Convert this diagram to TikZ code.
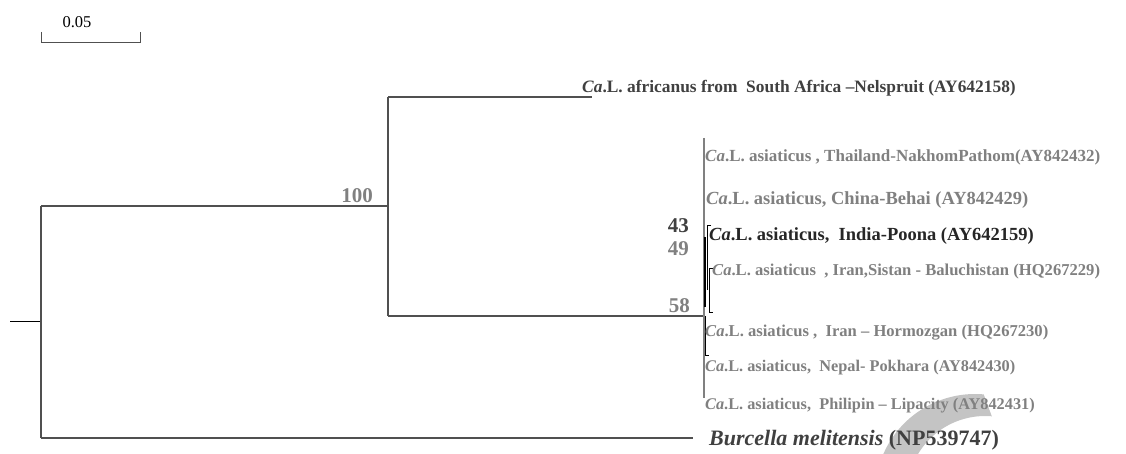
\documentclass[tikz,border=0pt]{standalone}
\usepackage{fontspec}
\usetikzlibrary{calc}
\setmainfont{Liberation Serif}
\definecolor{lgray}{HTML}{808080}
\definecolor{dgray}{HTML}{404040}
\definecolor{vdark}{HTML}{262626}
\definecolor{wmark}{HTML}{C4C4C4}
\definecolor{tline}{HTML}{505050}
\tikzset{
  leaf/.style={anchor=west, inner sep=0pt, font=\fontsize{#1}{20}\selectfont\bfseries, text=lgray},
  leaf/.default=16.5,
  boot/.style={anchor=east, inner sep=0pt, font=\fontsize{21}{22}\selectfont\bfseries, text=lgray},
  branch/.style={draw=tline, line width=1.1pt},
  thin/.style={draw=black, line width=0.8pt},
}
\newcommand{\Ca}{\textit{Ca}.L.}
\begin{document}
\begin{tikzpicture}[x=1pt,y=1pt]
\useasboundingbox (0,0) rectangle (1126,454);
% watermark
\begin{scope}
\clip (0,0) rectangle (1126,454);
\fill[wmark] (975,-40) ++(85:100) arc[start angle=85,end angle=200,radius=100]
  -- ($(985,-40)+(200:78)$) arc[start angle=200,end angle=85,radius=78] -- cycle;
\end{scope}
% coordinates (y = 454 - image y)
\coordinate (r0) at (10,132);
\coordinate (r) at (41,132);
\coordinate (rt) at (41,248);
\coordinate (rb) at (41,16);
\coordinate (n1) at (388,248);
\coordinate (n1t) at (388,357);
\coordinate (n1b) at (388,138);
\coordinate (afr) at (592,357);
\coordinate (n2) at (704,138);
\coordinate (n2t) at (704,316);
\coordinate (n2b) at (704,56);
\coordinate (bur) at (693,16);
% scale bar
\coordinate (s1) at (41,422);
\coordinate (s2) at (41,411);
\coordinate (s3) at (140,411);
\coordinate (s4) at (140,422);
\draw[tline, line width=1pt] (s1) -- (s2) -- (s3) -- (s4);
\node[inner sep=0pt, font=\fontsize{16.5}{18}\selectfont] (sl) at (77,432) {0.05};
% tree
\draw[black, line width=1pt] (r0) -- (r);
\draw[branch] (rt) -- (rb);
\draw[branch] (rt) -- (n1);
\draw[branch] (rb) -- (bur);
\draw[branch] (n1t) -- (n1b);
\draw[branch] (n1t) -- (afr);
\draw[branch] (n1b) -- (n2);
\draw[draw=lgray, line width=1.2pt] (n2t) -- (n2b);
% inner brackets
\coordinate (a1) at (705,217);
\coordinate (a2) at (705,147);
\draw[black, line width=2.4pt] (a1) -- (a2);
\coordinate (b0) at (711,229);
\coordinate (b1) at (707,229);
\coordinate (b2) at (707,164);
\draw[thin] (b0) -- (b1) -- (b2);
\coordinate (c0) at (713,186);
\coordinate (c1) at (709,186);
\coordinate (c2) at (709,142);
\coordinate (c3) at (713,142);
\draw[thin] (c0) -- (c1) -- (c2) -- (c3);
\coordinate (d1) at (705,138);
\coordinate (d2) at (705,99);
\coordinate (d3) at (709,99);
\draw[thin] (d1) -- (d2) -- (d3);
% bootstrap values
\node[boot] (b100) at (373,258) {100};
\node[boot, text=dgray] (b43) at (689,228) {43};
\node[boot] (b49) at (689,205) {49};
\node[boot] (b58) at (690,148) {58};
% leaves
\node[leaf=17.4, text=dgray] (l1) at (582,366) {\Ca{} africanus from\ \ South Africa –Nelspruit (AY642158)};
\node[leaf=17] (l2) at (705,297) {\Ca{} asiaticus , Thailand-NakhomPathom(AY842432)};
\node[leaf=18.5] (l3) at (706,254) {\Ca{} asiaticus, China-Behai (AY842429)};
\node[leaf=18.5, text=vdark] (l4) at (709,218) {\Ca{} asiaticus,\ \ India-Poona (AY642159)};
\node[leaf=16.6] (l5) at (712,182) {\Ca{} asiaticus\ \ , Iran,Sistan - Baluchistan (HQ267229)};
\node[leaf=16.6] (l6) at (705,121) {\Ca{} asiaticus ,\ \ Iran – Hormozgan (HQ267230)};
\node[leaf=16.3] (l7) at (705,86) {\Ca{} asiaticus,\ \ Nepal- Pokhara (AY842430)};
\node[leaf=16.3] (l8) at (705,48) {\Ca{} asiaticus,\ \ Philipin – Lipacity (AY842431)};
\node[leaf, text=dgray, font=\fontsize{22}{24}\selectfont\bfseries] (l9) at (709,14) {\textit{Burcella melitensis} (NP539747)};
\end{tikzpicture}
\end{document}
